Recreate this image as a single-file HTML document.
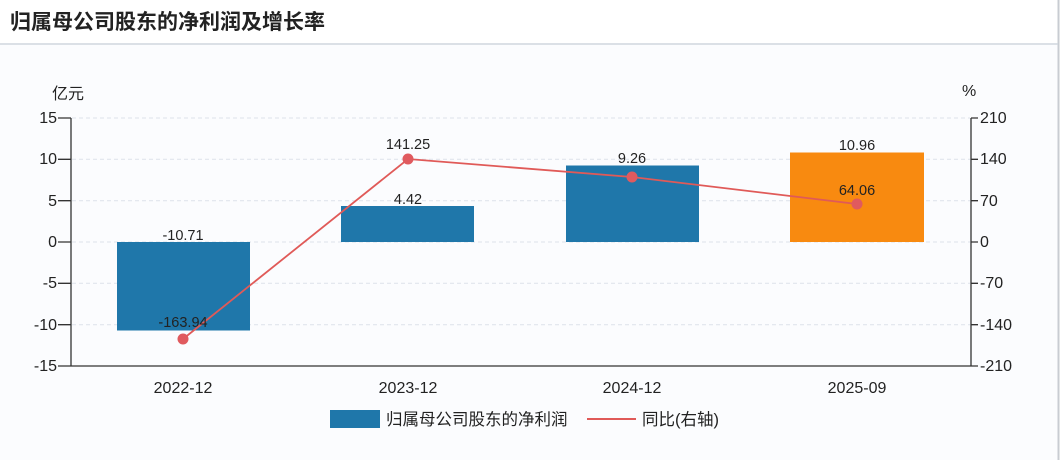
<!DOCTYPE html>
<html><head><meta charset="utf-8"><style>
html,body{margin:0;padding:0;background:#fff;}
svg{display:block;font-family:"Liberation Sans","Noto Sans CJK SC",sans-serif;}
</style></head><body>
<svg width="1062" height="460" viewBox="0 0 1062 460" xmlns="http://www.w3.org/2000/svg">
<rect x="0" y="0" width="1062" height="460" fill="#fff"/>
<rect x="0" y="45" width="1058" height="415" fill="#fbfcfe"/>
<line x1="1058.5" y1="0" x2="1058.5" y2="460" stroke="#c8ccd2" stroke-width="2"/>
<text x="10" y="29" font-size="21" font-weight="bold" fill="#222">归属母公司股东的净利润及增长率</text>
<line x1="0" y1="44" x2="1058" y2="44" stroke="#cfd6de" stroke-width="1.5"/>
<g stroke="#dde2ea" stroke-dasharray="4,3" stroke-width="1">
<line x1="72" y1="118" x2="970" y2="118"/><line x1="72" y1="159.3" x2="970" y2="159.3"/>
<line x1="72" y1="200.7" x2="970" y2="200.7"/><line x1="72" y1="242" x2="970" y2="242"/>
<line x1="72" y1="283.3" x2="970" y2="283.3"/><line x1="72" y1="324.7" x2="970" y2="324.7"/>
</g>
<g stroke="#333" stroke-width="1.3" fill="none">
<path d="M71,118V366"/><path d="M971,118V366"/>
<path d="M58,118H71M58,159.3H71M58,200.7H71M58,242H71M58,283.3H71M58,324.7H71M58,366H71"/>
<path d="M971,118H978M971,159.3H978M971,200.7H978M971,242H978M971,283.3H978M971,324.7H978M971,366H978"/>
<path d="M71,366H971"/>
</g>
<g font-size="16" fill="#222" text-anchor="end">
<text x="57" y="123">15</text><text x="57" y="164">10</text><text x="57" y="206">5</text>
<text x="57" y="247">0</text><text x="57" y="288">-5</text><text x="57" y="330">-10</text><text x="57" y="371">-15</text>
</g>
<g font-size="16" fill="#222">
<text x="980" y="123">210</text><text x="980" y="164">140</text><text x="980" y="206">70</text>
<text x="980" y="247">0</text><text x="980" y="288">-70</text><text x="980" y="330">-140</text><text x="980" y="371">-210</text>
</g>
<text x="52" y="99" font-size="16" fill="#222">亿元</text>
<text x="962" y="96" font-size="16" fill="#222">%</text>
<rect x="117" y="242" width="133" height="88.5" fill="#1f77aa"/>
<rect x="341" y="206" width="133" height="36" fill="#1f77aa"/>
<rect x="566" y="165.5" width="133" height="76.5" fill="#1f77aa"/>
<rect x="790" y="152.5" width="134" height="89.5" fill="#f88a10"/>
<g font-size="14.5" fill="#222" text-anchor="middle">
<text x="183" y="240">-10.71</text><text x="408" y="204">4.42</text>
<text x="632" y="163">9.26</text><text x="857" y="150">10.96</text>
</g>
<polyline points="183,339 408,159 632,177 857,204" fill="none" stroke="#e05a58" stroke-width="1.8"/>
<g fill="#e05a5e"><circle cx="183" cy="339" r="5.5"/><circle cx="408" cy="159" r="5.5"/><circle cx="632" cy="177" r="5.5"/><circle cx="857" cy="204" r="5.5"/></g>
<g font-size="14.5" fill="#222" text-anchor="middle">
<text x="183" y="327">-163.94</text><text x="408" y="149">141.25</text><text x="857" y="195">64.06</text>
</g>
<g font-size="16" fill="#222" text-anchor="middle">
<text x="183" y="393">2022-12</text><text x="408" y="393">2023-12</text>
<text x="632" y="393">2024-12</text><text x="857" y="393">2025-09</text>
</g>
<rect x="330" y="410" width="50" height="18" fill="#1f77aa"/>
<text x="386" y="425" font-size="16.5" fill="#222">归属母公司股东的净利润</text>
<line x1="587" y1="419" x2="636" y2="419" stroke="#e05a58" stroke-width="2"/>
<text x="642" y="425" font-size="16.5" fill="#222">同比(右轴)</text>
</svg>
</body></html>
